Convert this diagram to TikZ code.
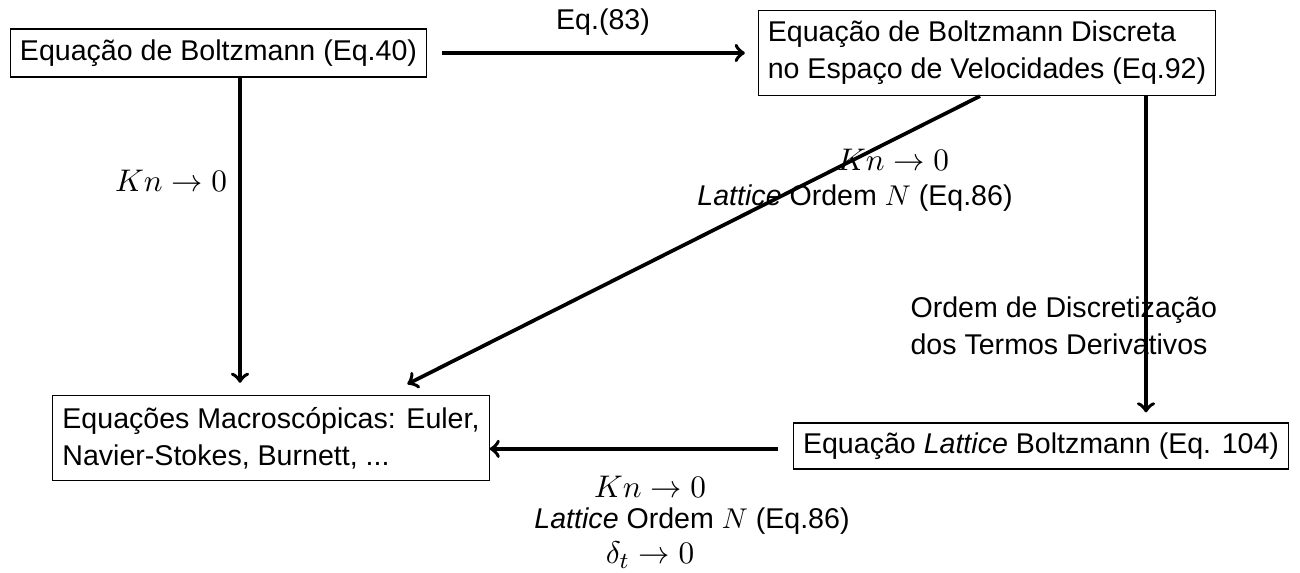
\documentclass[tikz,border=0pt]{standalone}
\usepackage{fontspec}
\newfontfamily\hv{Liberation Sans}
\begin{document}
\begin{tikzpicture}[x=0.35pt,y=-0.35pt,
  box/.style={draw,line width=0.4pt,font=\hv,inner sep=3.33pt},
  twobox/.style={box,align=left,font=\hv\fontsize{10}{12.9}\selectfont,minimum height=29.8pt},
  arr/.style={->,line width=1.3pt},
  lbl/.style={font=\hv,inner sep=0pt},
  mlbl/.style={font=\fontsize{10.8}{13}\selectfont,inner sep=0pt}]
\useasboundingbox (0,0) rectangle (1300,573);
\node[box,minimum height=16.8pt] (b1) at (218.5,53) {Equação de Boltzmann (Eq.40)};
\node[twobox] (b2) at (987,53) {Equação de Boltzmann Discreta\\no Espaço de Velocidades (Eq.92)};
\node[twobox] (b3) at (271,438) {Equações Macroscópicas: Euler,\\Navier-Stokes, Burnett, ...};
\node[box,minimum height=16.1pt] (b4) at (1041,446) {Equação \textit{Lattice} Boltzmann (Eq. 104)};
\coordinate (v1) at (240,0);
\coordinate (v2) at (1146,0);
% labels
\node[lbl] (l1) at (603,22) {Eq.(83)};
\node[mlbl] (l2) at (171,181) {$Kn\to0$};
\node[mlbl] (l3) at (893,160) {$Kn\to0$};
\node[lbl] (l4) at (855,198) {\textit{Lattice} Ordem $N$ (Eq.86)};
\node[lbl,align=left,font=\hv\fontsize{10}{12.9}\selectfont,anchor=west] (l5) at (910,326) {Ordem de Discretização\\dos Termos Derivativos};
\node[mlbl] (l6) at (650,487) {$Kn\to0$};
\node[lbl] (l7) at (692,521) {\textit{Lattice} Ordem $N$ (Eq.86)};
\node[mlbl] (l8) at (650,555) {$\delta_t\to0$};
% connectors
\draw[arr,shorten <=5.25pt,shorten >=4.5pt] (b1.east) -- (b2.west |- b1.east);
\draw[arr,shorten >=4.2pt] (b1.south -| v1) -- (b3.north -| v1);
\draw[arr,shorten >=3.5pt] (b2.south -| v2) -- (b4.north -| v2);
\draw[arr,shorten >=8.4pt] ([xshift=-2.45pt]b2.south) -- ([xshift=40.25pt]b3.north);
\draw[arr,shorten <=5.25pt] ([yshift=-1pt]b4.west) -- ([yshift=-1pt]b4.west -| b3.east);
\end{tikzpicture}
\end{document}
